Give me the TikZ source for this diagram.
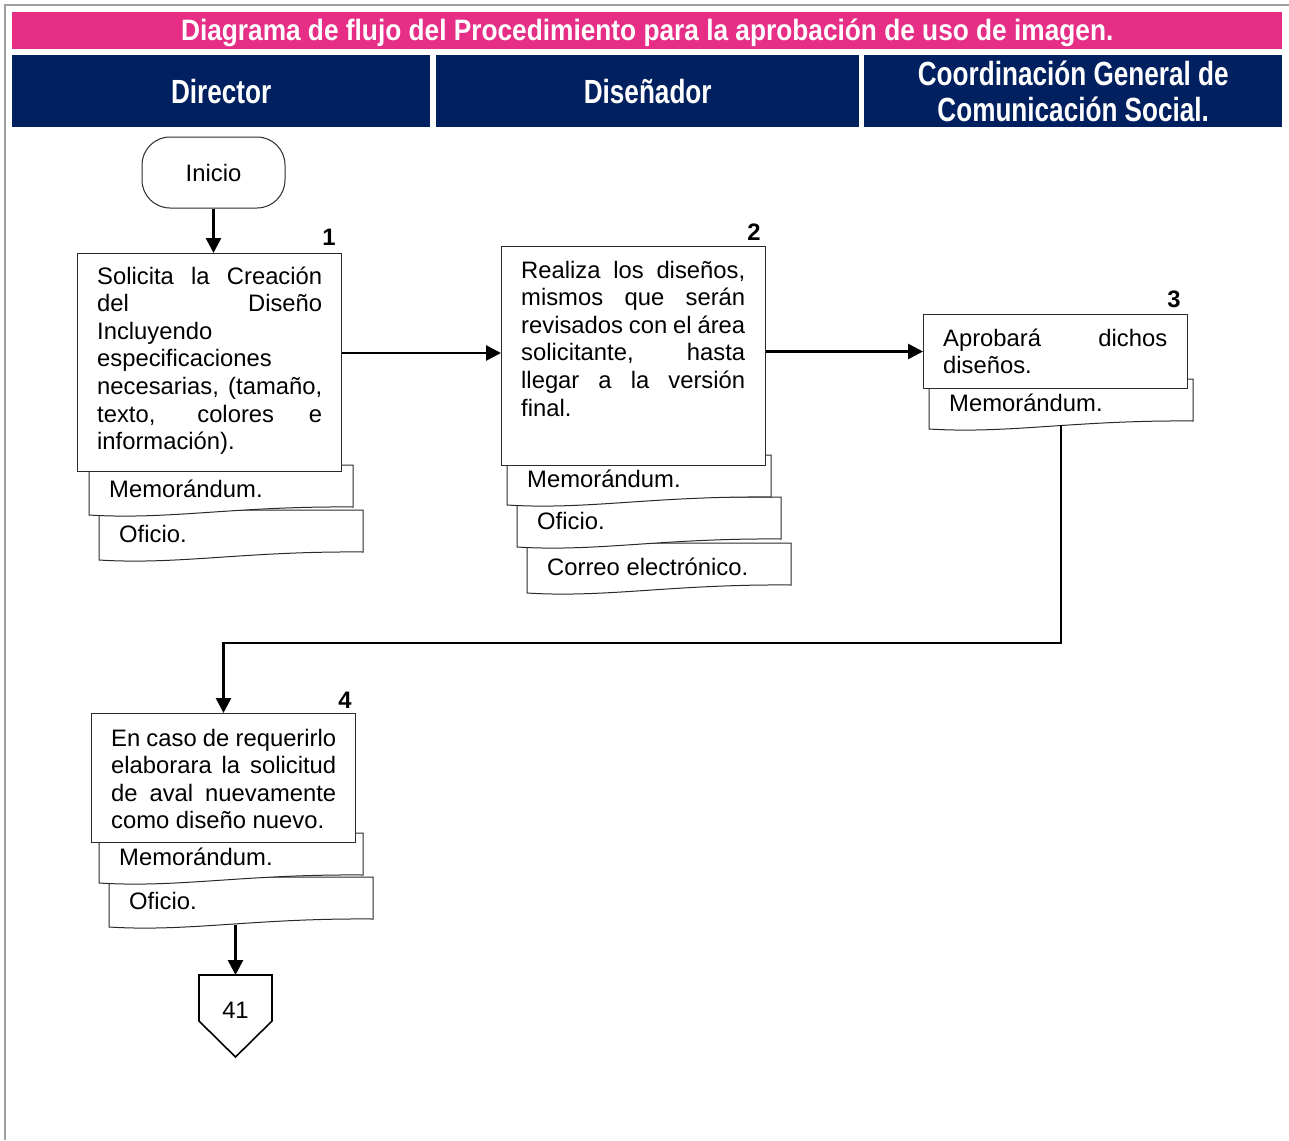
\documentclass[tikz,border=0pt]{standalone}
\usepackage{fontspec}
\setmainfont{Liberation Sans}
\newfontfamily\titlefont[FakeStretch=0.89]{Liberation Sans}
\newfontfamily\headfont[FakeStretch=0.78]{Liberation Sans}
\usetikzlibrary{arrows.meta}

\definecolor{bandpink}{HTML}{E62E86}
\definecolor{bandnavy}{HTML}{002060}
\definecolor{framegray}{HTML}{A0A0A0}
\definecolor{edgegray}{HTML}{2A2A2A}

% one fully justified line inside a \parbox
\newcommand\jline[1]{\makebox[\linewidth][s]{#1}\\}

% document symbol with a wavy lower edge: x, top, node name, label
\newcommand\docpage[4]{%
  \draw[docline] (#1,#2) -- (#1+264,#2) -- (#1+264,#2+42)
    .. controls (#1+145,#2+41) and (#1+80,#2+55) .. (#1,#2+50) -- cycle;
  \node[bodytext, anchor=base west] (#3) at (#1+20,#2+32.5) {#4};
}

\begin{document}
\begin{tikzpicture}[x=1pt,y=-1pt,
  bodytext/.style={inner sep=0pt, font=\fontsize{23.8}{27.6}\selectfont},
  stepnum/.style={inner sep=0pt, anchor=base, font=\bfseries\fontsize{23.8}{27.6}\selectfont},
  procbox/.style={draw=edgegray, fill=white, line width=1pt, inner sep=0pt,
                  minimum width=264pt, anchor=north west},
  docline/.style={draw=edgegray, fill=white, line width=1pt},
  lanehead/.style={fill=bandnavy, text=white, inner sep=0pt, anchor=north west,
                   minimum height=72pt, align=center,
                   font=\headfont\bfseries\fontsize{33.5}{36}\selectfont},
  conn/.style={line width=2.7pt, -{Triangle[length=15pt,width=15pt]}},
]
\useasboundingbox (0,0) rectangle (1289,1140);

% page frame
\draw[framegray, line width=1.3pt] (1289,5) -- (5,5) -- (5,1140);

% title band
\node[fill=bandpink, minimum width=1270pt, minimum height=37pt, inner sep=0pt,
      anchor=north west] (titleband) at (12,12) {};
\node[text=white, inner sep=0pt, font=\titlefont\bfseries\fontsize{29.5}{32}\selectfont]
  (title) at ([yshift=-2pt]titleband.center)
  {Diagrama de flujo del Procedimiento para la aprobación de uso de imagen.};

% swimlane headers
\node[lanehead, minimum width=418pt] (laneA) at (12,55) {Director};
\node[lanehead, minimum width=423pt] (laneB) at (436,55) {Diseñador};
\node[lanehead, minimum width=418pt] (laneC) at (864,55)
  {Coordinación General de\\Comunicación Social.};

% start terminal
\node[draw=edgegray, fill=white, line width=1pt, rounded corners=28pt,
      minimum width=143pt, minimum height=71pt, inner sep=0pt,
      font=\fontsize{23.8}{27.6}\selectfont] (inicio) at (213.5,172.5) {Inicio};

% ---- step 1 (Director)
\docpage{99}{510}{doc1b}{Oficio.}
\docpage{89}{465}{doc1a}{Memorándum.}
\node[procbox, minimum height=218pt] (box1) at (77,253) {};
\node[bodytext, anchor=base west] (txt1) at (97,284) {\parbox[t]{225pt}{%
  \jline{Solicita la Creación}
  \jline{del Diseño}
  Incluyendo\\
  especificaciones\\
  \jline{necesarias, (tamaño,}
  \jline{texto, colores e}
  información).}};
\node[stepnum] (n1) at (329,245.4) {1};

% ---- step 2 (Diseñador)
\docpage{527}{543}{doc2c}{Correo electrónico.}
\docpage{517}{497}{doc2b}{Oficio.}
\docpage{507}{455}{doc2a}{Memorándum.}
\node[procbox, minimum height=219pt] (box2) at (501,246) {};
\node[bodytext, anchor=base west] (txt2) at (521,278) {\parbox[t]{224pt}{%
  \jline{Realiza los diseños,}
  \jline{mismos que serán}
  \jline{revisados con el área}
  \jline{solicitante, hasta}
  \jline{llegar a la versión}
  final.}};
\node[stepnum] (n2) at (754,240.4) {2};

% ---- step 3 (Coordinación)
\docpage{929}{379}{doc3a}{Memorándum.}
\node[procbox, minimum height=74pt] (box3) at (923,314) {};
\node[bodytext, anchor=base west] (txt3) at (943,346) {\parbox[t]{224pt}{%
  \jline{Aprobará dichos}
  diseños.}};
\node[stepnum] (n3) at (1174,307.4) {3};
\coordinate (d3b) at (1061,425);
\coordinate (elbow) at (1061,643);

% ---- step 4 (Director)
\docpage{109}{877}{doc4b}{Oficio.}
\docpage{99}{833}{doc4a}{Memorándum.}
\node[procbox, minimum height=129pt] (box4) at (91,713) {};
\node[bodytext, anchor=base west] (txt4) at (111,746) {\parbox[t]{225pt}{%
  \jline{En caso de requerirlo}
  \jline{elaborara la solicitud}
  \jline{de aval nuevamente}
  como diseño nuevo.}};
\node[stepnum] (n4) at (345,708.4) {4};
\coordinate (d4b) at (235.5,925);

% off-page connector
\draw[black, line width=1.6pt, fill=white, line join=miter]
  (199,975) -- (272,975) -- (272,1021) -- (235.5,1057) -- (199,1021) -- cycle;
\node[inner sep=0pt, font=\fontsize{23.8}{27.6}\selectfont] (off) at (235.5,1010) {41};
\coordinate (offtop) at (235.5,975);

% connectors
\draw[conn] (inicio.south) -- (inicio.south |- box1.north);
\draw[conn] ([yshift=-100pt]box1.north east) -- ([yshift=-107pt]box2.north west);
\draw[conn] (box2.east |- box3.west) -- (box3.west);
\draw[conn] (d3b) -- (elbow) -| (box4.north);
\draw[conn] (d4b) -- (offtop);
\end{tikzpicture}
\end{document}
